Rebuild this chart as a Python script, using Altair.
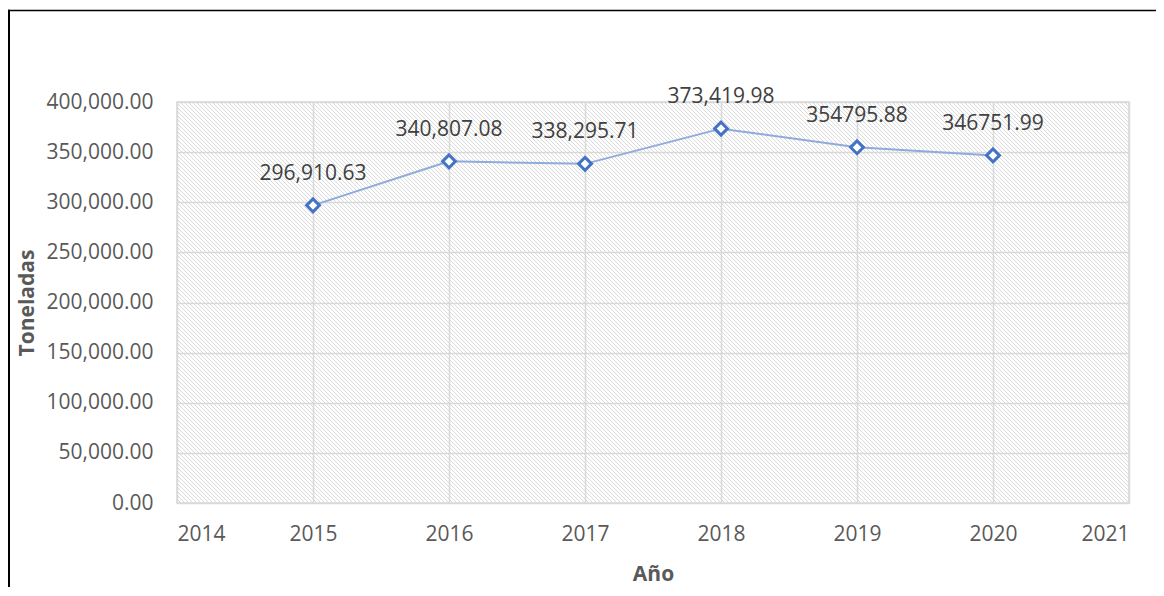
import altair as alt
import pandas as pd

# ---- data ----
years = [2015, 2016, 2017, 2018, 2019, 2020]
toneladas = [296910.63, 340807.08, 338295.71, 373419.98, 354795.88, 346751.99]
etiquetas = ["296,910.63", "340,807.08", "338,295.71", "373,419.98", "354795.88", "346751.99"]
x_ticks = [2014, 2015, 2016, 2017, 2018, 2019, 2020, 2021]
y_ticks = [0, 50000, 100000, 150000, 200000, 250000, 300000, 350000, 400000]

df = pd.DataFrame({"Año": years, "Toneladas": toneladas, "Etiqueta": etiquetas})

# ---- layout ----
W, H = 952, 401
PAD = {"left": 169, "top": 94, "right": 27, "bottom": 84}
FONT = "Open Sans"
GRID = "#d9d9d9"

# ---- diagonal hatch for the plot background (decoration) ----
span = W + H
gx2 = W * (W + H) / (W * W + H * H)
gy2 = 1 - H * (W + H) / (W * W + H * H)
clear = "rgba(255,255,255,0)"
stops = []
def clamp(v):
    return max(0.0, min(1.0, v))
for k in range(0, span + 4, 4):
    a = clamp((k - 0.5) / span)
    b = clamp((k + 0.5) / span)
    c = clamp((k + 3.5) / span)
    stops += [
        {"offset": a, "color": GRID},
        {"offset": b, "color": GRID},
        {"offset": b, "color": clear},
        {"offset": c, "color": clear},
    ]
hatch = {"gradient": "linear", "x1": 0, "y1": 1, "x2": gx2, "y2": gy2, "stops": stops}

xscale = alt.Scale(domain=[2014, 2021], nice=False, zero=False)
yscale = alt.Scale(domain=[0, 400000], nice=False)

xaxis = alt.Axis(values=x_ticks, format="d", title="Año", labelPadding=20,
                 titleY=77, titleBaseline="alphabetic", titleAnchor="middle")
yaxis = alt.Axis(values=y_ticks, format=",.2f", title="Toneladas", labelPadding=24,
                 titleAngle=-90, titleX=-143.7, titleY=H / 2, titleAlign="center",
                 titleBaseline="alphabetic", titleAnchor="middle")

one = alt.Data(values=[{}])

bg = alt.Chart(one).mark_rect(color=hatch).encode(
    x=alt.datum(2014, scale=xscale, axis=xaxis, type="quantitative"),
    x2=alt.datum(2021),
    y=alt.datum(0, scale=yscale, axis=yaxis, type="quantitative"),
    y2=alt.datum(400000),
)

base = alt.Chart(df)

line = base.mark_line(color="#8FAADC", strokeWidth=2).encode(
    x=alt.X("Año:Q", scale=xscale, axis=xaxis),
    y=alt.Y("Toneladas:Q", scale=yscale, axis=yaxis),
)

points = base.mark_point(shape="diamond", size=165, filled=True, fill="white",
                         stroke="#4472C4", strokeWidth=3, opacity=1).encode(
    x=alt.X("Año:Q", scale=xscale),
    y=alt.Y("Toneladas:Q", scale=yscale),
)

labels = base.mark_text(dy=-25.5, baseline="alphabetic", align="center", font=FONT,
                        fontSize=21, color="#404040").encode(
    x=alt.X("Año:Q", scale=xscale),
    y=alt.Y("Toneladas:Q", scale=yscale),
    text="Etiqueta:N",
)

frame_top = alt.Chart(one).mark_rule(color="#000000", strokeWidth=1.6).encode(
    x=alt.value(-PAD["left"]), x2=alt.value(W + PAD["right"]), y=alt.value(-91.5)
)
frame_left = alt.Chart(one).mark_rule(color="#000000", strokeWidth=2).encode(
    x=alt.value(-168), y=alt.value(-92.3), y2=alt.value(H + PAD["bottom"])
)

chart = alt.layer(bg, line, points, labels, frame_top, frame_left).properties(
    width=W, height=H,
    autosize=alt.AutoSizeParams(type="none"),
    padding=PAD,
    background="white",
).configure_view(
    stroke=GRID, strokeWidth=1.5
).configure_axis(
    labelFont=FONT, labelFontSize=21, labelColor="#595959",
    titleFont=FONT, titleFontSize=21, titleFontWeight="bold", titleColor="#595959",
    domain=False, ticks=False, tickSize=0,
    grid=True, gridColor=GRID, gridWidth=1.5,
)

chart.save("out.html", embed_options={"renderer": "svg", "actions": False})
